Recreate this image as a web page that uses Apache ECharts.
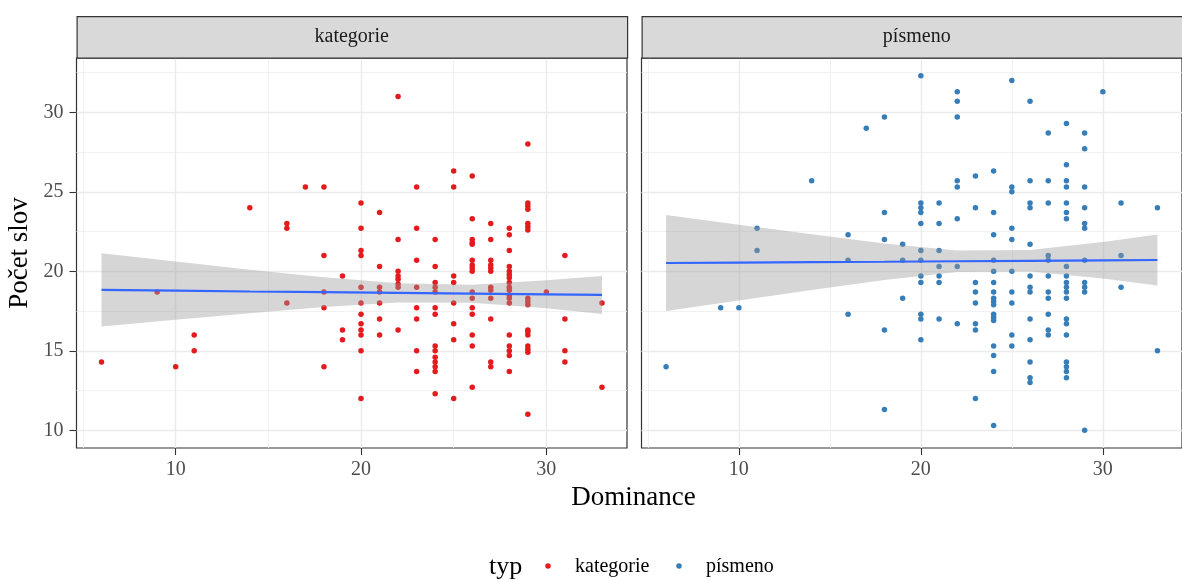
<!DOCTYPE html>
<html><head><meta charset="utf-8">
<script src="https://cdn.jsdelivr.net/npm/echarts@6/dist/echarts.min.js"></script>
<style>html,body{margin:0;padding:0;background:#fff}#c{width:1182px;height:581px}</style>
</head><body><div id="c"></div>
<script>
// ---- data ----
const panels = ['kategorie', 'písmeno'];
const legendTitle = 'typ';
const xTitle = 'Dominance';
const yTitle = 'Počet slov';

const kategorieX = [6, 9, 10, 11, 14, 16, 17, 18, 19, 20, 21, 22, 23, 24, 25, 26, 27, 28, 29, 30, 31, 33];
const kategorieY = [
  [14.3], [18.7], [14.0], [16.0, 15.0], [24.0], [23.0, 22.7, 18.0], [25.3],
  [25.3, 21.0, 18.7, 17.7, 14.0],
  [19.7, 16.3, 15.7],
  [24.3, 22.7, 21.3, 21.0, 19.0, 18.0, 17.3, 16.7, 16.3, 16.0, 15.0, 12.0],
  [23.7, 20.3, 19.0, 18.7, 18.0, 17.0, 16.0],
  [31.0, 22.0, 20.0, 19.7, 19.5, 19.2, 19.0, 16.3],
  [25.3, 22.7, 20.7, 19.0, 17.7, 17.0, 15.0, 13.7],
  [22.0, 20.3, 19.3, 19.0, 18.7, 17.7, 17.3, 15.3, 15.0, 14.6, 14.3, 14.0, 13.7, 12.3],
  [26.3, 25.3, 19.7, 19.3, 18.0, 16.7, 15.7, 12.0],
  [26.0, 23.3, 22.0, 21.8, 21.7, 20.7, 20.4, 20.2, 20.0, 18.7, 18.3, 17.7, 17.3, 16.0, 15.3, 12.7],
  [23.0, 22.0, 20.7, 20.4, 20.2, 20.0, 19.0, 18.8, 18.3, 17.0, 14.3, 14.0],
  [22.7, 22.3, 21.3, 20.3, 20.0, 19.8, 19.6, 19.3, 19.0, 18.8, 18.5, 18.3, 18.0, 16.0, 15.3, 15.0, 14.7, 13.7],
  [28.0, 24.3, 24.1, 23.9, 23.0, 22.8, 22.6, 18.3, 18.1, 17.9, 16.3, 16.2, 16.0, 15.3, 15.1, 14.9, 11.0],
  [18.7],
  [21.0, 17.0, 15.0, 14.3],
  [18.0, 12.7]
];

const pismenoX = [6, 9, 10, 11, 14, 16, 17, 18, 19, 20, 21, 22, 23, 24, 25, 26, 27, 28, 29, 30, 31, 33];
const pismenoY = [
  [14.0], [17.7], [17.7], [22.7, 21.3], [25.7], [22.3, 20.7, 17.3], [29.0],
  [29.7, 23.7, 22.0, 16.3, 11.3],
  [21.7, 20.7, 18.3],
  [32.3, 24.3, 24.0, 23.7, 23.0, 21.3, 20.7, 19.7, 19.3, 17.3, 17.0, 15.7],
  [24.3, 23.0, 21.3, 20.3, 19.7, 19.3, 17.0],
  [31.3, 30.7, 29.7, 25.7, 25.3, 23.3, 20.3, 16.7],
  [26.0, 24.0, 19.3, 18.7, 18.0, 16.7, 16.3, 12.0],
  [26.3, 23.7, 22.3, 20.7, 20.0, 19.3, 18.7, 18.3, 18.1, 17.9, 17.3, 17.1, 16.9, 15.3, 14.7, 13.7, 10.3],
  [32.0, 25.3, 25.0, 22.7, 22.0, 20.0, 18.7, 18.0, 16.0, 15.3],
  [30.7, 25.7, 24.3, 24.0, 21.7, 19.7, 19.0, 18.7, 17.0, 15.7, 14.3, 13.3, 13.0],
  [28.7, 25.7, 24.3, 21.0, 20.7, 19.7, 18.7, 18.3, 17.3, 16.3, 16.0],
  [29.3, 26.7, 25.7, 25.3, 24.3, 23.7, 23.3, 20.3, 19.7, 19.3, 19.0, 18.7, 18.3, 17.0, 16.7, 16.0, 14.3, 14.0, 13.7, 13.3],
  [28.7, 27.7, 25.3, 24.0, 23.0, 22.7, 20.7, 19.3, 19.0, 18.7, 10.0],
  [31.3],
  [24.3, 21.0, 19.0],
  [24.0, 15.0]
];

// linear smooth (lm) fit and its 95% band
const smoothX = [6, 10, 14, 18, 22, 26, 30, 33];
const kategorieFit = [18.83, 18.78, 18.73, 18.69, 18.64, 18.59, 18.55, 18.51];
const kategorieLo  = [16.53, 16.95, 17.36, 17.75, 18.04, 18.02, 17.67, 17.32];
const kategorieHi  = [21.13, 20.61, 20.10, 19.63, 19.24, 19.16, 19.43, 19.70];
const pismenoFit = [20.52, 20.55, 20.58, 20.60, 20.63, 20.66, 20.69, 20.71];
const pismenoLo  = [17.50, 18.17, 18.83, 19.45, 19.95, 19.98, 19.54, 19.11];
const pismenoHi  = [23.54, 22.93, 22.33, 21.75, 21.31, 21.34, 21.84, 22.31];

const xTicks = [10, 20, 30];
const xMinorTicks = [5, 15, 25];
const yTicks = [10, 15, 20, 25, 30];
const yMinorTicks = [12.5, 17.5, 22.5, 27.5, 32.5];
const pointColors = ['#E41A1C', '#377EB8'];

// ---- helpers ----
function toPoints(xs, ys) {
  const out = [];
  xs.forEach((x, i) => ys[i].forEach(y => out.push([x, y])));
  return out;
}
const zip = (xs, ys) => xs.map((x, i) => [x, ys[i]]);

const datasets = [toPoints(kategorieX, kategorieY), toPoints(pismenoX, pismenoY)];
const smooths = [
  { fit: zip(smoothX, kategorieFit), lo: zip(smoothX, kategorieLo), hi: zip(smoothX, kategorieHi) },
  { fit: zip(smoothX, pismenoFit), lo: zip(smoothX, pismenoLo), hi: zip(smoothX, pismenoHi) }
];
const allPts = datasets[0].concat(datasets[1]);
const allX = allPts.map(p => p[0]), allY = allPts.map(p => p[1]);
const xr = [Math.min(...allX), Math.max(...allX)];
const yr = [Math.min(...allY), Math.max(...allY)];
const xExt = [xr[0] - 0.05 * (xr[1] - xr[0]), xr[1] + 0.05 * (xr[1] - xr[0])];
const yExt = [yr[0] - 0.05 * (yr[1] - yr[0]), yr[1] + 0.05 * (yr[1] - yr[0])];

const FONT = '"Liberation Serif", "DejaVu Serif", serif';
const SMALL = 20, BIG = 27;
const gridLefts = [76.5, 641.5];
const gridTop = 58, gridH = 390, gridW = 550.5;

const grids = [], xAxes = [], yAxes = [], series = [], graphics = [];
panels.forEach((name, i) => {
  grids.push({ left: gridLefts[i], top: gridTop, width: gridW, height: gridH, show: true,
    borderColor: '#333333', borderWidth: 1.2, backgroundColor: 'transparent', containLabel: false });
  xAxes.push({ type: 'value', gridIndex: i, min: xExt[0], max: xExt[1],
    splitLine: { show: false }, axisLine: { show: false },
    axisTick: { show: true, length: 7, customValues: xTicks, lineStyle: { color: '#333333', width: 1.1 } },
    axisLabel: { customValues: xTicks, margin: 12, color: '#4d4d4d', fontFamily: FONT, fontSize: SMALL } });
  yAxes.push({ type: 'value', gridIndex: i, min: yExt[0], max: yExt[1],
    splitLine: { show: false }, axisLine: { show: false },
    axisTick: { show: i === 0, length: 7, customValues: yTicks, lineStyle: { color: '#333333', width: 1.1 } },
    axisLabel: { show: i === 0, customValues: yTicks, margin: 13, color: '#4d4d4d', fontFamily: FONT, fontSize: SMALL } });

  const ml = [];
  yMinorTicks.forEach(v => ml.push({ yAxis: v, lineStyle: { color: '#ededed', width: 0.8, type: 'solid' } }));
  xMinorTicks.forEach(v => ml.push({ xAxis: v, lineStyle: { color: '#ededed', width: 0.8, type: 'solid' } }));
  yTicks.forEach(v => ml.push({ yAxis: v, lineStyle: { color: '#ebebeb', width: 1.4, type: 'solid' } }));
  xTicks.forEach(v => ml.push({ xAxis: v, lineStyle: { color: '#ebebeb', width: 1.4, type: 'solid' } }));
  series.push({ type: 'line', name: 'grid' + i, xAxisIndex: i, yAxisIndex: i, data: [], z: 0,
    silent: true,
    markLine: { z: 0, silent: true, symbol: ['none', 'none'], label: { show: false }, animation: false, data: ml } });

  series.push({ type: 'scatter', name: name, xAxisIndex: i, yAxisIndex: i, data: datasets[i],
    symbol: 'circle', symbolSize: 5.5, itemStyle: { color: pointColors[i], opacity: 1 }, z: 2, silent: true });

  const band = smooths[i];
  series.push({ type: 'custom', name: 'band' + i, xAxisIndex: i, yAxisIndex: i, z: 3, silent: true,
    data: [band.fit[0]],
    renderItem: (params, api) => {
      const pts = band.hi.map(p => api.coord(p)).concat(band.lo.slice().reverse().map(p => api.coord(p)));
      return { type: 'polygon', shape: { points: pts }, style: { fill: 'rgba(153,153,153,0.4)', stroke: null } };
    } });
  series.push({ type: 'line', name: 'fit' + i, xAxisIndex: i, yAxisIndex: i, data: band.fit, z: 4,
    showSymbol: false, symbol: 'none', silent: true, lineStyle: { color: '#3366FF', width: 2.2 } });

  // facet strip
  graphics.push({ type: 'rect', left: gridLefts[i], top: 16, z: 10,
    shape: { width: gridW, height: 41.5 }, style: { fill: '#d9d9d9', stroke: '#333333', lineWidth: 1.2 } });
  graphics.push({ type: 'text', x: gridLefts[i] + gridW / 2, y: 37, z: 11,
    style: { text: name, fill: '#1a1a1a', font: SMALL + 'px ' + FONT, align: 'center', verticalAlign: 'middle' } });
});

// axis titles
graphics.push({ type: 'text', x: 633.5, y: 498, style: { text: xTitle, fill: '#000', font: BIG + 'px ' + FONT, align: 'center', verticalAlign: 'middle' } });
graphics.push({ type: 'text', x: 20, y: 253, rotation: Math.PI / 2, style: { text: yTitle, fill: '#000', font: BIG + 'px ' + FONT, align: 'center', verticalAlign: 'middle' } });
// legend
graphics.push({ type: 'text', x: 489, y: 567, style: { text: legendTitle, fill: '#000', font: '26px ' + FONT, align: 'left', verticalAlign: 'middle' } });
const legendDotX = [548, 679], legendTextX = [575, 706];
panels.forEach((name, i) => {
  graphics.push({ type: 'circle', shape: { cx: legendDotX[i], cy: 566, r: 2.75 }, style: { fill: pointColors[i] } });
  graphics.push({ type: 'text', x: legendTextX[i], y: 567, style: { text: name, fill: '#000', font: SMALL + 'px ' + FONT, align: 'left', verticalAlign: 'middle' } });
});

const chart = echarts.init(document.getElementById('c'), null, { renderer: 'canvas' });
chart.setOption({
  animation: false,
  backgroundColor: '#ffffff',
  grid: grids, xAxis: xAxes, yAxis: yAxes, series: series,
  graphic: graphics
});
</script></body></html>
